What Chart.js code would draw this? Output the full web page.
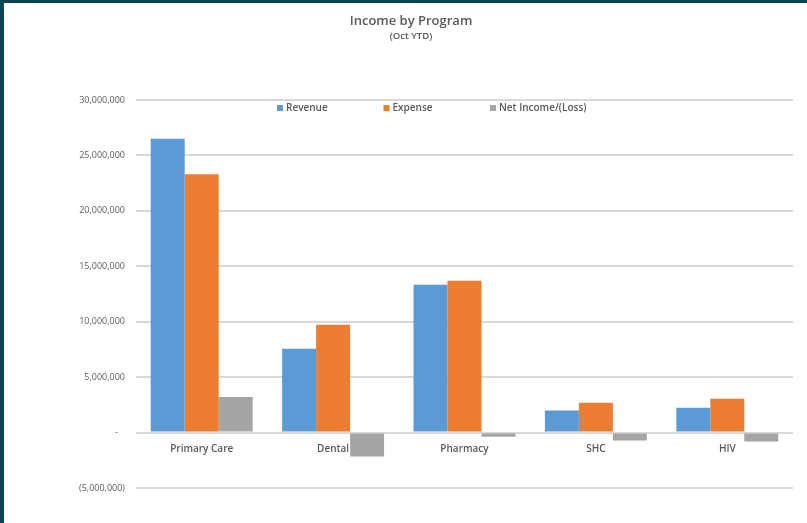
<!DOCTYPE html>
<html>
<head>
<meta charset="utf-8">
<script src="https://cdn.jsdelivr.net/npm/chart.js@4.4.1/dist/chart.umd.min.js"></script>
<style>
  html, body { margin: 0; padding: 0; background: #0c4650; width: 807px; height: 523px; overflow: hidden; }
  #wrap { position: absolute; left: 4px; top: 3px; width: 803px; height: 520px; background: #ffffff; }
  canvas { display: block; }
</style>
</head>
<body>
<div id="wrap"><canvas id="c" width="803" height="520"></canvas></div>
<script>
const categories = ['Primary Care', 'Dental', 'Pharmacy', 'SHC', 'HIV'];
const revenue = [26500000, 7570000, 13330000, 1980000, 2250000];
const expense = [23300000, 9730000, 13700000, 2700000, 3060000];
const netIncome = [3200000, -2160000, -370000, -720000, -810000];
const seriesNames = ['Revenue', 'Expense', 'Net Income/(Loss)'];
const seriesColors = ['#5B9BD5', '#ED7D31', '#A5A5A5'];
const yTicks = [-5000000, 0, 5000000, 10000000, 15000000, 20000000, 25000000, 30000000];

const FONT = "'Open Sans', 'Liberation Sans', sans-serif";
const TXT = '#595959';

const legendPlugin = {
  id: 'customLegend',
  afterDraw(chart) {
    const ctx = chart.ctx;
    const a = chart.chartArea;
    const y = a.top + 8;
    ctx.save();
    ctx.font = "600 10px " + FONT;
    ctx.textBaseline = 'middle';
    ctx.textAlign = 'left';
    chart.data.datasets.forEach((ds, i) => {
      const x = a.left + 141 + i * 106.5;
      ctx.fillStyle = ds.backgroundColor;
      ctx.fillRect(x, y - 3, 6, 6);
      ctx.fillStyle = TXT;
      ctx.fillText(ds.label, x + 9, y + 0.5);
    });
    ctx.restore();
  }
};

new Chart(document.getElementById('c'), {
  type: 'bar',
  data: {
    labels: categories,
    datasets: [
      { label: seriesNames[0], data: revenue, backgroundColor: seriesColors[0] },
      { label: seriesNames[1], data: expense, backgroundColor: seriesColors[1] },
      { label: seriesNames[2], data: netIncome, backgroundColor: seriesColors[2] }
    ]
  },
  options: {
    responsive: false,
    animation: false,
    devicePixelRatio: 1,
    layout: { padding: { left: 25, right: 14, top: 0, bottom: 35 } },
    datasets: { bar: { categoryPercentage: 0.776, barPercentage: 1.0, borderWidth: 0 } },
    plugins: {
      legend: { display: false },
      tooltip: { enabled: false },
      title: {
        display: true,
        text: 'Income by Program',
        color: TXT,
        font: { family: FONT, size: 13, weight: '600', lineHeight: 1.2 },
        padding: { top: 10, bottom: 0 }
      },
      subtitle: {
        display: true,
        text: '(Oct YTD)',
        color: TXT,
        font: { family: FONT, size: 9.5, weight: '600', lineHeight: 1.2 },
        padding: { top: 1.7, bottom: 58.3 }
      }
    },
    scales: {
      x: {
        position: { y: 0 },
        grid: { display: false, drawTicks: false },
        border: { display: false },
        ticks: { color: TXT, font: { family: FONT, size: 10, weight: '600' }, padding: 11, maxRotation: 0, autoSkip: false }
      },
      y: {
        min: -5000000,
        max: 30000000,
        afterBuildTicks(scale) { scale.ticks = yTicks.map(v => ({ value: v })); },
        afterFit(scale) { scale.width = 107; },
        grid: { color: '#D9D9D9', lineWidth: 2, drawTicks: false },
        border: { display: false },
        ticks: {
          color: TXT,
          font: { family: FONT, size: 9 },
          padding: 11,
          callback(v) {
            if (v === 0) return '-   ';
            if (v < 0) return '(' + Math.abs(v).toLocaleString('en-US') + ')';
            return v.toLocaleString('en-US');
          }
        }
      }
    }
  },
  plugins: [legendPlugin]
});
</script>
</body>
</html>
